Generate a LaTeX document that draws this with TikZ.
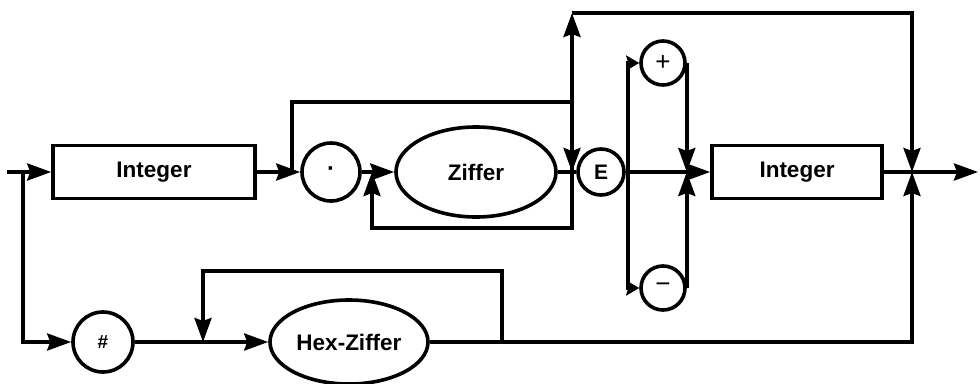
\documentclass[tikz,border=0pt]{standalone}
\usepackage{fontspec}
\setmainfont{Liberation Sans}
\usetikzlibrary{arrows.meta,shapes.geometric}
\begin{document}
\begin{tikzpicture}[x=1pt,y=-1pt,
  line width=3.6pt,
  arr/.style={-{Stealth[length=24pt,width=17pt,inset=3pt]}},
  sarr/.style={-{Stealth[length=13pt,width=15pt,inset=2pt]}},
  lbl/.style={font=\fontsize{22.5}{26}\selectfont\bfseries},
  box/.style={draw,rectangle,inner sep=0pt,minimum height=53pt,lbl},
  oval/.style={draw,ellipse,inner sep=0pt,lbl},
  circ/.style={draw,circle,inner sep=0pt}]
\useasboundingbox (0,0) rectangle (980,383);

\node[box,minimum width=202pt] (int1) at (154,172) {Integer};
\node[circ,minimum size=58pt,font=\fontsize{24}{26}\selectfont\bfseries] (dot) at (331,172) {·};
\node[circ,minimum size=46pt,font=\fontsize{21}{24}\selectfont\bfseries] (E) at (601,172) {E};
\node[oval,minimum width=160pt,minimum height=90pt] (zif) at (476,172) {Ziffer};
\node[circ,minimum size=44pt,font=\fontsize{26}{28}\selectfont] (plus) at (663,63) {+};
\node[circ,minimum size=44pt,font=\fontsize{26}{28}\selectfont] (minus) at (663,288) {−};
\node[box,minimum width=170pt] (int2) at (797,172) {Integer};
\node[circ,minimum size=60pt,font=\fontsize{19}{22}\selectfont\bfseries] (hash) at (103,342) {\#};
\node[oval,minimum width=158pt,minimum height=84pt] (hex) at (349,342) {Hex-Ziffer};

\coordinate (start) at (7,172);
\coordinate (jA) at (23,172);
\coordinate (jB) at (292,172);
\coordinate (jBt) at (292,102);
\coordinate (jCt) at (572,102);
\coordinate (jC) at (572,172);
\coordinate (top1) at (572,13);
\coordinate (top2) at (912,13);
\coordinate (jD) at (912,172);
\coordinate (jE) at (912,342);
\coordinate (loopL) at (372,172);
\coordinate (loopLb) at (372,228);
\coordinate (loopRb) at (572,228);
\coordinate (sgn) at (628,172);
\coordinate (sgnT) at (628,63);
\coordinate (sgnB) at (628,288);
\coordinate (jS) at (685,172);
\coordinate (hexL) at (203,342);
\coordinate (hexLt) at (203,271);
\coordinate (hexR) at (502,342);
\coordinate (hexRt) at (502,271);
\coordinate (end) at (978,172);

\draw[arr] (start) -- (int1.west);
\draw[arr] (jA) |- (hash.west);
\draw[arr] (int1.east) -- (dot.west);
\draw[arr] (jB) -- (jBt) -- (jCt) -- (jC);
\draw[arr] (dot.east) -- (zif.west);
\draw[arr] (jC) -- (loopRb) -- (loopLb) -- (loopL);
\draw (zif.east) -- (E.west);
\draw[arr] (jC) -- (top1);
\draw[arr] (top1) -- (top2) -- (jD);
\draw[arr] (E.east) -- (int2.west);
\draw[sarr] (sgn) -- (sgnT) -- (plus.west);
\draw[sarr] (sgn) -- (sgnB) -- (minus.west);
\draw[arr] (plus.east) -- (plus.east |- jS);
\draw[arr] (minus.east) -- (minus.east |- jS);
\draw[arr] (int2.east) -- (end);
\draw[arr] (hash.east) -- (hex.west);
\draw[arr] (hexR) -- (hexRt) -- (hexLt) -- (hexL);
\draw[arr] (hex.east) -- (jE) -- (jD);
\end{tikzpicture}
\end{document}
